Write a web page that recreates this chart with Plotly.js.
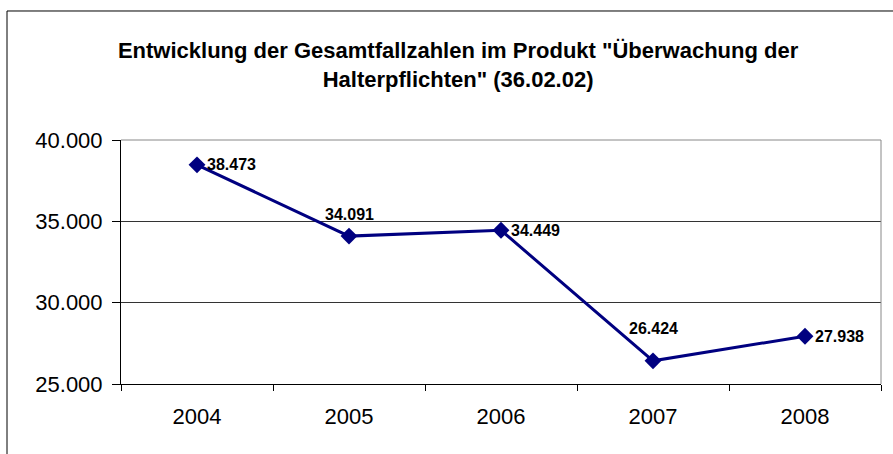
<!DOCTYPE html>
<html>
<head>
<meta charset="utf-8">
<script src="https://cdn.plot.ly/plotly-3.0.1.min.js"></script>
<style>html,body{margin:0;padding:0;background:#fff;}#chart{width:893px;height:454px;}</style>
</head>
<body>
<div id="chart"></div>
<script>
const years = ['2004', '2005', '2006', '2007', '2008'];
const values = [38473, 34091, 34449, 26424, 27938];
const labelPlacement = ['right', 'top', 'right', 'top', 'right'];

function fmt(v) {
  return String(v).replace(/\B(?=(\d{3})+(?!\d))/g, '.');
}

const FONT = 'Liberation Sans, Arial, sans-serif';

const annotations = years.map((y, i) => {
  const right = labelPlacement[i] === 'right';
  return {
    x: i, y: values[i], xref: 'x', yref: 'y',
    text: '<b>' + fmt(values[i]) + '</b>', showarrow: false,
    xanchor: right ? 'left' : 'center',
    yanchor: 'middle',
    xshift: right ? 8 : 0,
    yshift: right ? 0 : (i === 3 ? 32 : 22),
    font: {family: FONT, size: 16, color: '#000'}
  };
});

const trace = {
  x: years, y: values, type: 'scatter', mode: 'lines+markers',
  line: {color: '#000080', width: 3},
  marker: {symbol: 'diamond', size: 13, color: '#000080'},
  hoverinfo: 'none'
};

const layout = {
  width: 893, height: 454,
  margin: {l: 121, r: 12, t: 140, b: 70},
  paper_bgcolor: '#fff', plot_bgcolor: '#fff',
  separators: ',.',
  showlegend: false,
  title: {
    text: '<b>Entwicklung der Gesamtfallzahlen im Produkt "Überwachung der<br>Halterpflichten" (36.02.02)</b>',
    font: {family: FONT, size: 22, color: '#000'},
    x: 0.513, xanchor: 'center', y: 0.872, yanchor: 'middle'
  },
  xaxis: {
    type: 'category', range: [-0.5, 4.5],
    tickson: 'boundaries', ticks: 'outside', ticklen: 6, tickcolor: '#000',
    showline: true, linecolor: '#000', linewidth: 1, mirror: false,
    showgrid: false, zeroline: false, ticklabelstandoff: 13,
    tickfont: {family: FONT, size: 22, color: '#000'}
  },
  yaxis: {
    range: [25000, 40000], dtick: 5000, tickformat: ',.0f',
    ticks: 'outside', ticklen: 8, tickcolor: '#000',
    showline: true, linecolor: '#000', linewidth: 1,
    showgrid: true, gridcolor: '#333', gridwidth: 1, zeroline: false,
    ticklabelstandoff: 5,
    tickfont: {family: FONT, size: 22, color: '#000'}
  },
  annotations: annotations,
  shapes: [
    {type: 'line', xref: 'paper', yref: 'paper', x0: 0, x1: 1, y0: 1, y1: 1, line: {color: '#888', width: 1}},
    {type: 'line', xref: 'paper', yref: 'paper', x0: 1, x1: 1, y0: 0, y1: 1, line: {color: '#888', width: 1}},
    {type: 'rect', xref: 'paper', yref: 'paper', x0: -0.15, x1: 1.2, y0: -0.6, y1: 1.5287, line: {color: '#000', width: 1}, layer: 'below'}
  ]
};

Plotly.newPlot('chart', [trace], layout, {displayModeBar: false, staticPlot: true});
</script>
</body>
</html>
